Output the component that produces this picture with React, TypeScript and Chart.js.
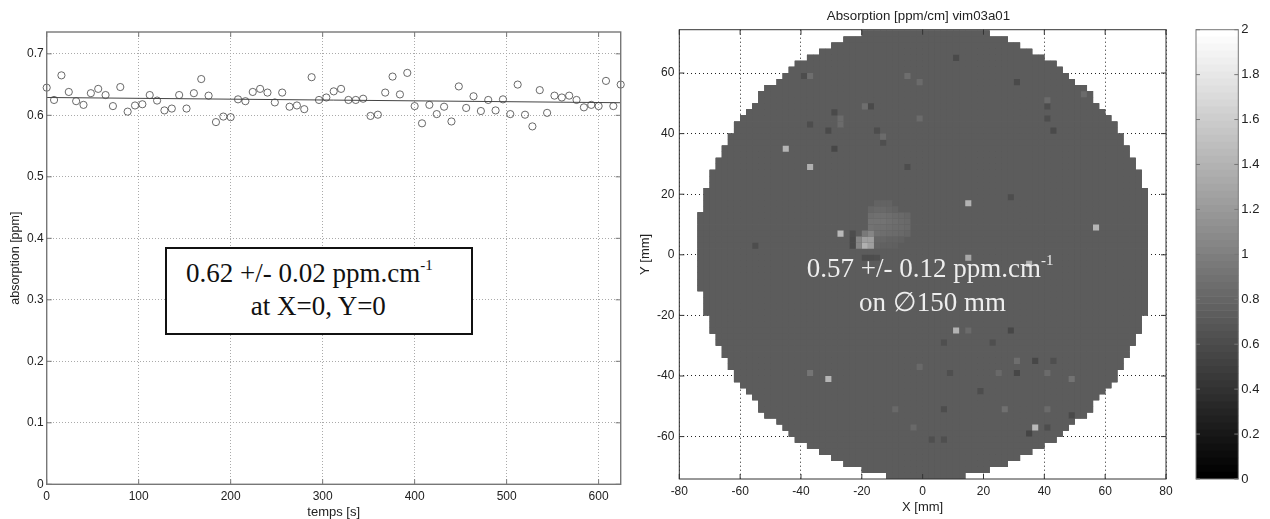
import React, { useEffect, useRef } from "react";
import { Chart, registerables } from "chart.js";

Chart.register(...registerables);

const SANS = '"Liberation Sans", Arial, sans-serif';
const SERIF = '"Liberation Serif", "Times New Roman", serif';

// Left panel: absorption against time
const times = [0, 8, 16, 24, 32, 40, 48, 56, 64, 72, 80, 88, 96, 104, 112, 120, 128, 136, 144, 152, 160, 168, 176, 184, 192, 200, 208, 216, 224, 232, 240, 248, 256, 264, 272, 280, 288, 296, 304, 312, 320, 328, 336, 344, 352, 360, 368, 376, 384, 392, 400, 408, 416, 424, 432, 440, 448, 456, 464, 472, 480, 488, 496, 504, 512, 520, 528, 536, 544, 552, 560, 568, 576, 584, 592, 600, 608, 616, 624];
const absorption = [0.645, 0.625, 0.665, 0.638, 0.623, 0.617, 0.636, 0.643, 0.633, 0.615, 0.646, 0.606, 0.616, 0.618, 0.633, 0.624, 0.608, 0.611, 0.633, 0.611, 0.636, 0.659, 0.632, 0.589, 0.598, 0.597, 0.626, 0.623, 0.638, 0.643, 0.637, 0.621, 0.637, 0.614, 0.616, 0.61, 0.662, 0.625, 0.629, 0.639, 0.643, 0.625, 0.625, 0.627, 0.599, 0.601, 0.637, 0.663, 0.634, 0.669, 0.615, 0.587, 0.617, 0.602, 0.614, 0.59, 0.647, 0.612, 0.631, 0.607, 0.625, 0.608, 0.626, 0.602, 0.65, 0.601, 0.582, 0.641, 0.604, 0.632, 0.629, 0.632, 0.625, 0.613, 0.617, 0.615, 0.656, 0.615, 0.65];
const fitTimes = [0, 624];
const fitValues = [0.629, 0.6205];
const leftXTicks = [0, 100, 200, 300, 400, 500, 600];

// Right panel: the wafer map, 2 mm cells, odd-valued cell centres
const rowCentres = [73, 71, 69, 67, 65, 63, 61, 59, 57, 55, 53, 51, 49, 47, 45, 43, 41, 39, 37, 35, 33, 31, 29, 27, 25, 23, 21, 19, 17, 15, 13, 11, 9, 7, 5, 3, 1, -1, -3, -5, -7, -9, -11, -13, -15, -17, -19, -21, -23, -25, -27, -29, -31, -33, -35, -37, -39, -41, -43, -45, -47, -49, -51, -53, -55, -57, -59, -61, -63, -65, -67, -69, -71, -73];
const rowLeftEdges = [-20, -26, -30, -34, -38, -42, -44, -46, -48, -52, -54, -54, -56, -58, -60, -62, -62, -64, -64, -66, -66, -68, -68, -70, -70, -70, -72, -72, -72, -72, -74, -74, -74, -74, -74, -74, -74, -74, -74, -74, -74, -74, -74, -72, -72, -72, -72, -70, -70, -70, -68, -68, -66, -66, -64, -64, -62, -62, -60, -58, -56, -54, -54, -52, -48, -46, -44, -42, -38, -34, -30, -26, -20, -12];
const rowRightEdges = [22, 28, 32, 36, 40, 44, 46, 48, 50, 54, 56, 56, 58, 60, 62, 64, 64, 66, 66, 68, 68, 70, 70, 72, 72, 72, 74, 74, 74, 74, 74, 74, 74, 74, 74, 74, 74, 74, 74, 74, 74, 74, 74, 74, 74, 74, 74, 72, 72, 72, 70, 70, 68, 68, 66, 66, 64, 64, 62, 60, 58, 56, 56, 54, 50, 48, 46, 44, 40, 36, 32, 28, 22, 14];
const backgroundLevel = 0.72;
// Cells that stand out in the picture: x, y and their level on the colour bar
const spotXs = [-45, -37, -27, 15, 57, 15, 35, -31, 11, 37];
const spotYs = [35, 29, 7, 17, 9, -1, -3, -41, -25, -57];
const spotLevels = [1.42, 1.38, 1.45, 1.4, 1.42, 1.32, 1.36, 1.42, 1.4, 1.45];
const plumeXs = [-19, -17, -19, -17, -21, -21, -17, -19, -17, -15, -13, -11, -9, -7, -5, -17, -15, -13, -11, -9, -7, -5, -15, -13, -11, -9, -7, -5, -17, -15, -13, -11, -9, -7, -5, -17, -15, -13, -11, -9, -15, -13, -11, -15, -13, -11, -9, -7, -15, -13, -11, -9, -23, -23, -23, -19, -17, -15];
const plumeYs = [3, 3, 5, 5, 3, 5, 7, 7, 9, 9, 9, 9, 9, 9, 9, 11, 11, 11, 11, 11, 11, 11, 7, 7, 7, 7, 7, 7, 13, 13, 13, 13, 13, 13, 13, 15, 15, 15, 15, 15, 17, 17, 17, 5, 5, 5, 5, 5, 3, 3, 3, 3, 3, 5, 7, -1, -1, -1];
const plumeLevels = [1.38, 1.25, 1.25, 1.25, 1.05, 1.05, 1.05, 0.95, 0.9, 0.88, 0.88, 0.86, 0.85, 0.84, 0.82, 0.9, 0.9, 0.9, 0.88, 0.86, 0.84, 0.82, 0.88, 0.86, 0.85, 0.84, 0.82, 0.8, 0.86, 0.88, 0.88, 0.86, 0.84, 0.82, 0.8, 0.8, 0.82, 0.82, 0.8, 0.78, 0.78, 0.78, 0.78, 0.8, 0.8, 0.78, 0.78, 0.76, 0.78, 0.76, 0.76, 0.75, 0.58, 0.58, 0.6, 0.6, 0.6, 0.62];
const darkXs = [-17, -29, -31, -37, -15, -29, -5, -39, -13, -55, 11, 31, 29, 41, 43, 41, 29, 37, 31, 7, 7, 19, 35, 41, 7, 3, 23, 43, 9, 49];
const darkYs = [49, 47, 41, 43, 41, 35, 29, 59, 37, 3, 65, 57, 19, 45, 41, 49, -25, -35, -39, -29, -51, -45, -59, -57, -61, -61, -29, -35, -39, -53];
const darkLevels = [0.58, 0.58, 0.58, 0.6, 0.6, 0.56, 0.6, 0.6, 0.62, 0.6, 0.58, 0.58, 0.6, 0.6, 0.58, 0.6, 0.56, 0.56, 0.56, 0.62, 0.6, 0.6, 0.54, 0.6, 0.62, 0.62, 0.62, 0.62, 0.62, 0.58];
const lightXs = [-19, -37, -5, -1, -1, -27, -27, -13, 15, 31, 41, 25, 27, 41, 41, 53, 49, -37, -1, -3, -9];
const lightYs = [49, 59, 59, 57, 45, 45, 43, 39, -25, -35, -39, -39, -51, -51, 51, 53, -41, -39, -37, -57, -51];
const lightLevels = [0.86, 0.86, 0.86, 0.84, 0.84, 0.84, 0.84, 0.84, 0.84, 0.86, 0.84, 0.82, 0.88, 0.84, 0.84, 0.84, 0.9, 0.92, 0.82, 0.82, 0.82];
const rightXTicks = [-80, -60, -40, -20, 0, 20, 40, 60, 80];

// Colour bar: 64 grey steps from 0 to 2
const barStepGreys = [0, 4, 8, 12, 16, 20, 24, 28, 32, 36, 40, 45, 49, 53, 57, 61, 65, 69, 73, 77, 81, 85, 89, 93, 97, 101, 105, 109, 113, 117, 121, 125, 130, 134, 138, 142, 146, 150, 154, 158, 162, 166, 170, 174, 178, 182, 186, 190, 194, 198, 202, 206, 210, 215, 219, 223, 227, 231, 235, 239, 243, 247, 251, 255];
const barStep = 0.03125;

const grey = (v: number) => {
  const g = Math.max(0, Math.min(255, Math.round((v / 2) * 255)));
  return `rgb(${g},${g},${g})`;
};

function buildDisk() {
  const out: { x: number; y: number }[] = [];
  rowCentres.forEach((y, r) => {
    for (let x = rowLeftEdges[r] + 1; x < rowRightEdges[r]; x += 2) out.push({ x, y });
  });
  return out;
}

function buildMarked() {
  const out: { x: number; y: number; v: number }[] = [];
  const add = (xs: number[], ys: number[], vs: number[]) =>
    xs.forEach((x, i) => out.push({ x, y: ys[i], v: vs[i] }));
  add(darkXs, darkYs, darkLevels);
  add(lightXs, lightYs, lightLevels);
  add(plumeXs, plumeYs, plumeLevels);
  add(spotXs, spotYs, spotLevels);
  return out;
}

function framePlugin(color: string, width: number, tick: number) {
  return {
    id: "frame",
    afterDatasetsDraw(chart: any) {
      const { ctx, chartArea: a, scales } = chart;
      ctx.save();
      ctx.strokeStyle = color;
      ctx.lineWidth = width;
      ctx.strokeRect(a.left, a.top, a.right - a.left, a.bottom - a.top);
      ctx.lineWidth = 1;
      ctx.beginPath();
      if (scales.x.options.display !== false) {
        scales.x.ticks.forEach((t: any) => {
          const p = scales.x.getPixelForValue(t.value);
          ctx.moveTo(p, a.bottom);
          ctx.lineTo(p, a.bottom - tick);
          ctx.moveTo(p, a.top);
          ctx.lineTo(p, a.top + tick);
        });
      }
      scales.y.ticks.forEach((t: any) => {
        const p = scales.y.getPixelForValue(t.value);
        ctx.moveTo(a.left, p);
        ctx.lineTo(a.left + tick, p);
        ctx.moveTo(a.right, p);
        ctx.lineTo(a.right - tick, p);
      });
      ctx.stroke();
      ctx.restore();
    },
  };
}

const tickText = (v: any) => String(Math.round(Number(v) * 10) / 10);

export default function App() {
  const leftRef = useRef<HTMLCanvasElement>(null);
  const rightRef = useRef<HTMLCanvasElement>(null);
  const barRef = useRef<HTMLCanvasElement>(null);

  useEffect(() => {
    const textColor = "#222";
    const font = { family: SANS, size: 12 };
    const titleFont = { family: SANS, size: 13 };
    const left = new Chart(leftRef.current!, {
      type: "scatter",
      data: {
        datasets: [
          {
            type: "line",
            data: fitTimes.map((x, i) => ({ x, y: fitValues[i] })),
            borderColor: "#444",
            borderWidth: 1,
            pointRadius: 0,
            fill: false,
          },
          {
            data: times.map((x, i) => ({ x, y: absorption[i] })),
            pointStyle: "circle",
            pointRadius: 3.6,
            borderWidth: 0.8,
            borderColor: "#444",
            backgroundColor: "rgba(0,0,0,0)",
            clip: false,
          },
        ] as any,
      },
      options: {
        responsive: false,
        animation: false,
        layout: { padding: { top: 32, right: 19.3 } },
        plugins: { legend: { display: false }, tooltip: { enabled: false } },
        scales: {
          x: {
            type: "linear",
            min: 0,
            max: 624,
            border: { display: false, dash: [1, 2] },
            grid: { color: "#aaa", drawTicks: false },
            afterFit: (s: any) => { s.height = 34.7; },
            afterBuildTicks: (s: any) => { s.ticks = leftXTicks.map((value) => ({ value })); },
            ticks: { color: textColor, font, padding: 5, maxRotation: 0, callback: tickText },
            title: { display: true, text: "temps [s]", color: textColor, font: titleFont, padding: { top: 0, bottom: -1 } },
          },
          y: {
            min: 0,
            max: 0.7355,
            border: { display: false, dash: [1, 2] },
            grid: { color: "#aaa", drawTicks: false },
            afterFit: (s: any) => { s.width = 46.7; },
            ticks: { stepSize: 0.1, includeBounds: false, color: textColor, font, padding: 3, callback: tickText },
            title: { display: true, text: "absorption [ppm]", color: textColor, font: { family: SANS, size: 12.5 }, padding: { top: 8, bottom: 0 } },
          },
        },
      } as any,
      plugins: [framePlugin("#777", 1.4, 5)],
    });

    const disk = buildDisk();
    const diskPass = {
      data: disk,
      pointStyle: "rect",
      pointRadius: 4.45,
      borderWidth: 0,
      backgroundColor: grey(backgroundLevel),
    };
    const right = new Chart(rightRef.current!, {
      type: "scatter",
      data: {
        datasets: [
          {
            data: buildMarked(),
            pointStyle: "rect",
            pointRadius: 4.3,
            borderWidth: 0,
            backgroundColor: (c: any) => grey(c.raw?.v ?? backgroundLevel),
          },
          { ...diskPass },
          { ...diskPass },
          { ...diskPass },
        ] as any,
      },
      options: {
        responsive: false,
        animation: false,
        layout: { padding: { top: 29.7, right: 24 } },
        plugins: { legend: { display: false }, tooltip: { enabled: false } },
        scales: {
          x: {
            type: "linear",
            min: -80,
            max: 80,
            border: { display: false, dash: [1, 3] },
            grid: { color: "#222", drawTicks: false },
            afterFit: (s: any) => { s.height = 40; },
            afterBuildTicks: (s: any) => { s.ticks = rightXTicks.map((value) => ({ value })); },
            ticks: { color: textColor, font, padding: 5, maxRotation: 0, callback: tickText },
            title: { display: true, text: "X [mm]", color: textColor, font: titleFont, padding: { top: 0, bottom: 4 } },
          },
          y: {
            min: -74,
            max: 74.3,
            border: { display: false, dash: [1, 3] },
            grid: { color: "#222", drawTicks: false },
            afterFit: (s: any) => { s.width = 49.3; },
            ticks: { stepSize: 20, includeBounds: false, color: textColor, font, padding: 5, callback: tickText },
            title: { display: true, text: "Y [mm]", color: textColor, font: titleFont, padding: { top: 8, bottom: 0 } },
          },
        },
      } as any,
      plugins: [framePlugin("#333", 1, 5)],
    });

    const bar = new Chart(barRef.current!, {
      type: "bar",
      data: {
        labels: ["scale"],
        datasets: barStepGreys.map((g) => ({
          data: [barStep],
          backgroundColor: `rgb(${g},${g},${g})`,
          borderWidth: 0,
          barPercentage: 1,
          categoryPercentage: 1,
        })),
      },
      options: {
        responsive: false,
        animation: false,
        layout: { padding: { left: 6, top: 29.7, bottom: 40 } },
        plugins: { legend: { display: false }, tooltip: { enabled: false } },
        scales: {
          x: { stacked: true, display: false },
          y: {
            stacked: true,
            position: "right",
            min: 0,
            max: 2,
            border: { display: false },
            grid: { display: false, drawTicks: false },
            afterFit: (s: any) => { s.width = 31.7; },
            ticks: { stepSize: 0.2, color: textColor, font: { family: SANS, size: 13 }, padding: 3, callback: tickText },
          },
        },
      } as any,
      plugins: [framePlugin("#777", 1, 4)],
    });

    return () => {
      left.destroy();
      right.destroy();
      bar.destroy();
    };
  }, []);

  const abs: React.CSSProperties = { position: "absolute" };
  const serif = (color: string): React.CSSProperties => ({
    ...abs,
    fontFamily: SERIF,
    fontSize: 27,
    lineHeight: "27px",
    color,
    whiteSpace: "nowrap",
  });
  const sup: React.CSSProperties = { fontSize: 15, position: "relative", top: -12 };

  return (
    <div style={{ position: "absolute", left: 0, top: 0, width: 1270, height: 519, overflow: "hidden", background: "#fff" }}>
      <canvas ref={leftRef} width={640} height={519} style={{ ...abs, left: 0, top: 0, display: "block" }} />
      <canvas ref={rightRef} width={560} height={519} style={{ ...abs, left: 630, top: 0, display: "block" }} />
      <canvas ref={barRef} width={80} height={519} style={{ ...abs, left: 1190, top: 0, display: "block" }} />
      <div style={{ ...abs, left: 818.5, top: 8, width: 200, textAlign: "center", fontFamily: SANS, fontSize: 13.3, lineHeight: "16px", color: "#222", whiteSpace: "nowrap" }}>
        Absorption [ppm/cm] vim03a01
      </div>
      <div style={{ ...abs, left: 165, top: 246.5, width: 308, height: 88.5, boxSizing: "border-box", border: "2px solid #111", background: "#fff" }} />
      <div style={{ ...serif("#111"), left: 186, top: 260 }}>
        0.62 +/- 0.02 ppm.cm<span style={sup}>-1</span>
      </div>
      <div style={{ ...serif("#111"), left: 250.7, top: 292.7 }}>at X=0, Y=0</div>
      <div style={{ ...serif("#eee"), left: 806.7, top: 254.7 }}>
        0.57 +/- 0.12 ppm.cm<span style={sup}>-1</span>
      </div>
      <div style={{ ...serif("#eee"), left: 859, top: 289 }}>on ∅150 mm</div>
    </div>
  );
}
